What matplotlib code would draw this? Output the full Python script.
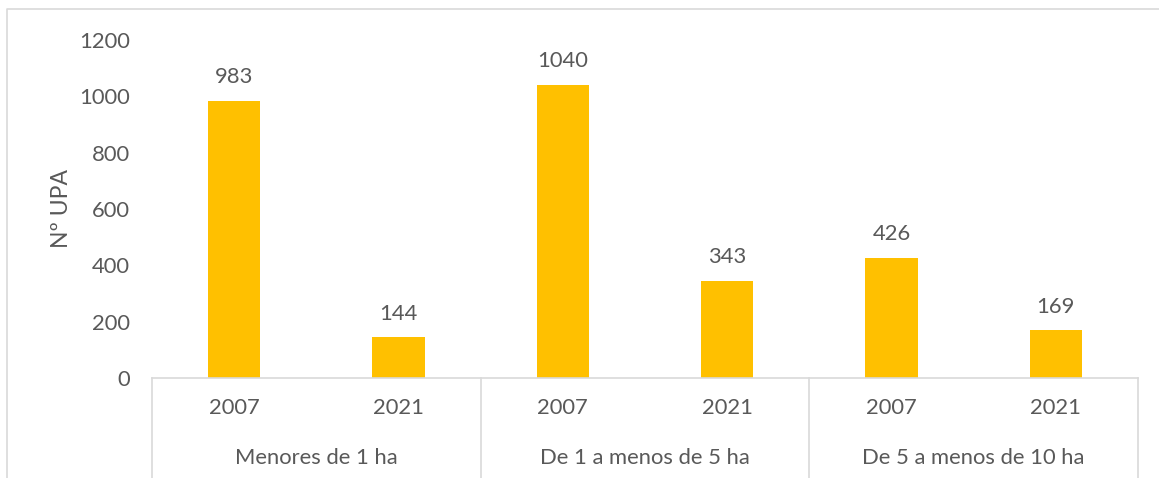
import matplotlib
matplotlib.use("Agg")
import matplotlib.pyplot as plt
from matplotlib.lines import Line2D

groups = ["Menores de 1 ha", "De 1 a menos de 5 ha", "De 5 a menos de 10 ha"]
years = ["2007", "2021"]
values = [983, 144, 1040, 343, 426, 169]
yticks = [0, 200, 400, 600, 800, 1000, 1200]

plt.rcParams['font.family'] = ['Lato', 'DejaVu Sans']
txt = '#595959'
grid = '#D9D9D9'
fs = 15.8

W, H = 1159, 478
fig = plt.figure(figsize=(W/100, H/100), dpi=100)
ax = fig.add_axes([152/W, 1-378/H, (1138-152)/W, (378-40)/H])

n = len(values)
xs = list(range(n))
ax.bar(xs, values, width=0.32, color='#FFC000', zorder=2)
ax.set_xlim(-0.5, n-0.5)
ax.set_ylim(0, 1200)
ax.set_yticks(yticks)
ax.set_yticklabels([str(t) for t in yticks], fontsize=fs, color=txt)
ax.tick_params(axis='y', length=0, pad=16)
ax.set_xticks([])
for s in ['top', 'right', 'left']:
    ax.spines[s].set_visible(False)
ax.spines['bottom'].set_color(grid)
ax.spines['bottom'].set_linewidth(1.2)

for x, v in zip(xs, values):
    ax.annotate(str(v), (x, v), xytext=(0, 10), textcoords='offset points',
                ha='center', va='bottom', fontsize=fs, color=txt)

ax.set_ylabel("Nº UPA", fontsize=16.5, color=txt, labelpad=5)

trans = ax.get_xaxis_transform()
for i, x in enumerate(xs):
    ax.text(x, -30/338, years[i % 2], transform=trans, ha='center', va='center',
            fontsize=fs, color=txt)
for g, name in enumerate(groups):
    ax.text(2*g + 0.5, -80/338, name, transform=trans, ha='center', va='center',
            fontsize=fs, color=txt)
for b in [-0.5, 1.5, 3.5, 5.5]:
    ax.add_line(Line2D([b, b], [0, -0.31], transform=trans, color=grid,
                       lw=1.2, clip_on=False))

fig.add_artist(Line2D([7/W, 7/W, 1159/W], [0, 1-9/H, 1-9/H], transform=fig.transFigure,
                      color=grid, lw=1.2))

fig.savefig("out.png", dpi=100, facecolor='white')
